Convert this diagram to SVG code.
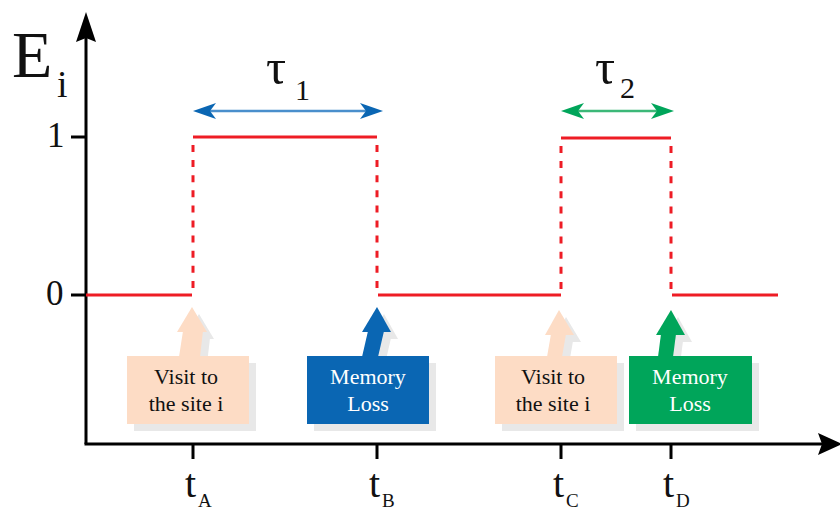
<svg xmlns="http://www.w3.org/2000/svg" width="840" height="513" viewBox="0 0 840 513">
<defs>
<style>
.ser{font-family:"Liberation Serif","DejaVu Serif",serif;fill:#111}
.ax{stroke:#000;stroke-width:3;fill:none}
.sig{stroke:#ee1c25;stroke-width:3;fill:none}
.dash{stroke:#ee1c25;stroke-width:3;fill:none;stroke-dasharray:7 8.1}
.shadow{fill:#e8e8e8}
.lbl{font-family:"Liberation Serif","DejaVu Serif",serif;font-size:22px;text-anchor:middle}
</style>
</defs>
<rect width="840" height="513" fill="#fff"/>

<g id="axes">
<line class="ax" x1="86" y1="444" x2="86" y2="38"/>
<polygon points="86,12 76,42 86,38 96,42" fill="#000"/>
<line class="ax" x1="84.5" y1="444" x2="822" y2="444"/>
<polygon points="842,444 818,433 822,444 818,455" fill="#000"/>
<line class="ax" x1="71" y1="137" x2="86" y2="137"/>
<line class="ax" x1="71" y1="295" x2="86" y2="295"/>
<line class="ax" x1="193" y1="444" x2="193" y2="459"/>
<line class="ax" x1="377" y1="444" x2="377" y2="459"/>
<line class="ax" x1="561" y1="444" x2="561" y2="459"/>
<line class="ax" x1="671" y1="444" x2="671" y2="459"/>
<text class="ser" x="12" y="77" font-size="66">E</text>
<text class="ser" x="57" y="97" font-size="38">i</text>
<text class="ser" x="47" y="147" font-size="35">1</text>
<text class="ser" x="46" y="305" font-size="35">0</text>
<text class="ser" x="185" y="497" font-size="40">t</text>
<text class="ser" x="198" y="507" font-size="19">A</text>
<text class="ser" x="369" y="497" font-size="40">t</text>
<text class="ser" x="382" y="507" font-size="19">B</text>
<text class="ser" x="553" y="497" font-size="40">t</text>
<text class="ser" x="566" y="507" font-size="19">C</text>
<text class="ser" x="663" y="497" font-size="40">t</text>
<text class="ser" x="676" y="507" font-size="19">D</text>
</g>

<g id="connectors">
<line class="sig" x1="86" y1="295" x2="192" y2="295"/>
<line class="dash" x1="193" y1="145" x2="193" y2="292"/>
<line class="sig" x1="193" y1="137" x2="377" y2="137"/>
<line class="dash" x1="377" y1="145" x2="377" y2="292"/>
<line class="sig" x1="378" y1="295" x2="561" y2="295"/>
<line class="dash" x1="561" y1="146" x2="561" y2="292"/>
<line class="sig" x1="561" y1="138" x2="671" y2="138"/>
<line class="dash" x1="671" y1="146" x2="671" y2="292"/>
<line class="sig" x1="672" y1="295" x2="778" y2="295"/>
<line x1="208" y1="111" x2="368" y2="111" stroke="#4a8fcc" stroke-width="2.5"/>
<polygon points="193,111 216,103 210,111 216,119" fill="#0a66b3"/>
<polygon points="383,111 360,103 366,111 360,119" fill="#0a66b3"/>
<line x1="576" y1="111" x2="659" y2="111" stroke="#3cb878" stroke-width="2.5"/>
<polygon points="561,111 584,103 578,111 584,119" fill="#00a55a"/>
<polygon points="674,111 651,103 657,111 651,119" fill="#00a55a"/>
<text class="ser" x="266" y="84" font-size="50">τ</text>
<text class="ser" x="295" y="100" font-size="30">1</text>
<text class="ser" x="595" y="84" font-size="50">τ</text>
<text class="ser" x="620" y="98" font-size="30">2</text>
</g>

<g id="visit1">
<g class="shadow" transform="translate(7,7)">
<rect x="127" y="356" width="122" height="68"/>
<polygon points="179,357 200,357 203,331 183,331"/>
<polygon points="177,332 207,332 192,307"/>
</g>
<g fill="#fddcc5">
<rect x="127" y="356" width="122" height="68"/>
<polygon points="179,357 200,357 203,331 183,331"/>
<polygon points="177,332 207,332 192,307"/>
</g>
<text class="lbl" x="186" y="384" fill="#111">Visit to</text>
<text class="lbl" x="186" y="411" fill="#111">the site i</text>
</g>

<g id="memory1">
<g class="shadow" transform="translate(7,7)">
<rect x="307" y="356" width="122" height="68"/>
<polygon points="362,357 378,357 384,331 368,331"/>
<polygon points="362,332 391,332 377,307"/>
</g>
<g fill="#0a66b3">
<rect x="307" y="356" width="122" height="68"/>
<polygon points="362,357 378,357 384,331 368,331"/>
<polygon points="362,332 391,332 377,307"/>
</g>
<text class="lbl" x="368" y="384" fill="#fff">Memory</text>
<text class="lbl" x="368" y="411" fill="#fff">Loss</text>
</g>

<g id="visit2">
<g class="shadow" transform="translate(7,7)">
<rect x="495" y="356" width="122" height="68"/>
<polygon points="547,357 562,357 566,334 551,334"/>
<polygon points="545,335 574,335 559,310"/>
</g>
<g fill="#fddcc5">
<rect x="495" y="356" width="122" height="68"/>
<polygon points="547,357 562,357 566,334 551,334"/>
<polygon points="545,335 574,335 559,310"/>
</g>
<text class="lbl" x="553" y="384" fill="#111">Visit to</text>
<text class="lbl" x="553" y="411" fill="#111">the site i</text>
</g>

<g id="memory2">
<g class="shadow" transform="translate(7,7)">
<rect x="629" y="356" width="123" height="68"/>
<polygon points="658,357 673,357 676,334 661,334"/>
<polygon points="656,335 685,335 671,310"/>
</g>
<g fill="#00a55a">
<rect x="629" y="356" width="123" height="68"/>
<polygon points="658,357 673,357 676,334 661,334"/>
<polygon points="656,335 685,335 671,310"/>
</g>
<text class="lbl" x="690" y="384" fill="#fff">Memory</text>
<text class="lbl" x="690" y="411" fill="#fff">Loss</text>
</g>
</svg>
